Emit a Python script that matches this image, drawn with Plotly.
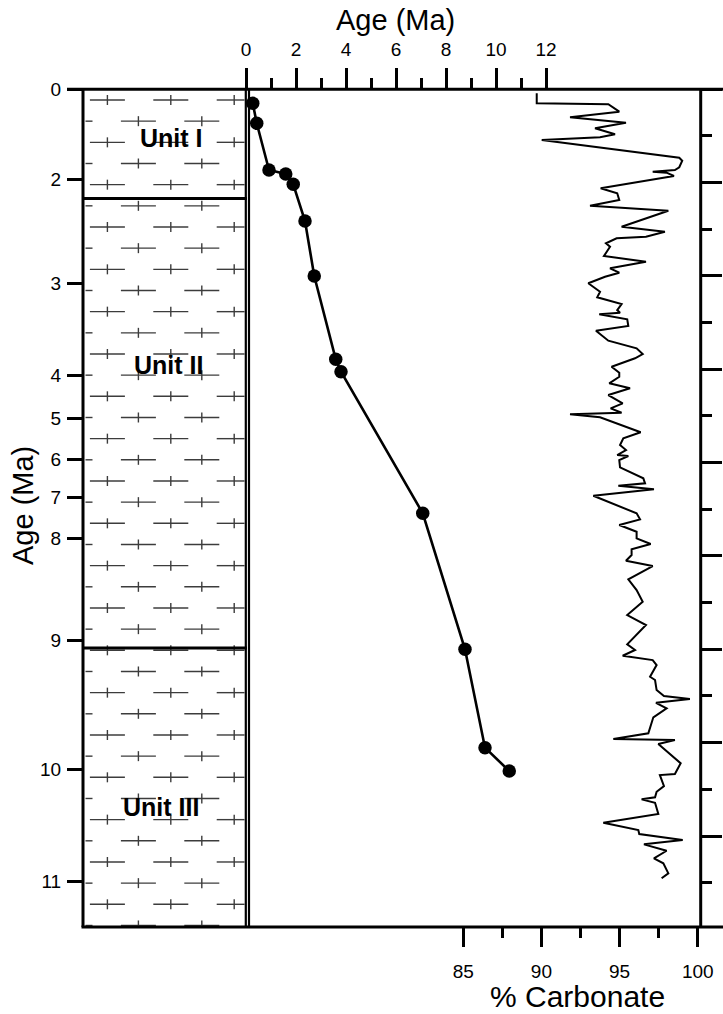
import plotly.graph_objects as go

# ---------------- figure geometry ----------------
W, H = 723, 1014
ML, MR, MT, MB = 83, 22, 89, 87
PW = W - ML - MR
PH = H - MT - MB


def px_x(p):
    return (p - ML) / PW


def px_y(p):
    return (H - MB - p) / PH


# ---------------- data ----------------
# age-depth tie points (age in Ma, depth in m)
age_ma = [0.27, 0.43, 0.92, 1.59, 1.89, 2.36, 2.73, 3.59, 3.80, 7.07, 8.76, 9.56, 10.53]
age_depth = [3.0, 7.29, 17.29, 18.15, 20.36, 28.22, 40.0, 57.85, 60.51, 90.85, 120.0, 141.08, 146.07]

# carbonate record
carb_pct = [89.70, 89.70, 94.28, 94.98, 91.83, 95.41, 93.43, 94.71, 93.75, 90.02,
            98.82, 99.01, 98.82, 98.54, 97.12, 98.01, 98.48, 93.79, 94.85, 94.98,
            93.11, 98.12, 95.13, 97.90, 96.69, 94.81, 94.13, 94.39, 94.00, 96.69,
            94.39, 94.98, 94.07, 93.00, 93.75, 93.57, 95.13, 94.85, 95.03, 93.70,
            95.49, 95.56, 93.49, 94.28, 96.09, 96.48, 95.99, 94.49, 94.98, 94.98,
            94.34, 95.67, 94.28, 95.20, 94.43, 95.13, 91.83, 93.75, 96.35, 95.24,
            95.03, 95.41, 94.85, 95.56, 94.98, 95.03, 96.52, 96.63, 94.92, 97.20,
            93.32, 96.09, 96.31, 94.98, 96.09, 96.09, 96.99, 95.77, 95.77, 95.41,
            97.12, 95.56, 96.09, 96.48, 95.49, 96.69, 95.49, 95.99, 95.20, 97.12,
            97.37, 96.95, 97.27, 97.37, 97.84, 99.50, 97.33, 98.01, 97.16, 96.84,
            94.60, 98.54, 97.48, 98.91, 98.54, 97.58, 97.84, 97.37, 97.27, 96.41,
            97.27, 97.48, 93.96, 96.20, 96.26, 99.04, 96.56, 98.01, 97.20, 97.80,
            98.12, 97.69]
carb_depth = [0.86, 3.00, 3.21, 4.80, 6.00, 7.16, 8.36, 9.64, 10.29, 10.86,
              14.66, 15.30, 16.71, 17.29, 17.66, 17.87, 18.58, 21.21, 22.29, 23.72,
              24.94, 26.01, 29.44, 30.51, 31.59, 31.93, 33.00, 33.73, 35.72, 36.94,
              38.36, 39.30, 40.16, 41.57, 43.37, 44.57, 46.01, 47.30, 47.87, 48.22,
              49.29, 50.72, 51.73, 53.87, 55.50, 56.72, 57.64, 59.44, 60.73, 61.59,
              63.00, 64.07, 65.51, 67.29, 68.36, 69.30, 69.65, 70.29, 73.50, 74.79,
              76.23, 77.30, 78.37, 78.58, 79.44, 81.00, 83.36, 84.43, 84.95, 85.72,
              87.09, 90.86, 92.15, 93.37, 94.80, 96.22, 97.44, 98.58, 99.80, 101.02,
              102.15, 105.00, 107.30, 109.80, 112.65, 114.80, 118.93, 120.15, 121.38, 122.30,
              123.37, 125.88, 126.58, 128.73, 130.01, 130.65, 131.45, 132.65, 134.57, 138.00,
              139.23, 139.44, 140.30, 144.43, 146.72, 146.94, 149.30, 150.52, 151.72, 152.15,
              152.87, 155.30, 157.16, 158.73, 159.58, 160.87, 161.79, 163.16, 164.79, 165.86,
              168.00, 169.07]

# left axis: age labels placed at depth positions
age_tick_depth = [0, 19.22, 41.57, 61.22, 70.50, 79.22, 87.51, 96.22, 118.01, 145.65, 169.80]
age_tick_text = ["0", "2", "3", "4", "5", "6", "7", "8", "9", "10", "11"]

# lithologic units
unit_names = ["Unit I", "Unit II", "Unit III"]
unit_bounds = [23.4, 119.7]
unit_label_depth = [10.43, 59.07, 153.8]

# axis tick values
top_age_ticks = [0, 2, 4, 6, 8, 10, 12]
top_age_minor = [1, 3, 5, 7, 9, 11]
carb_ticks = [85, 90, 95, 100]
carb_minor = [87.5, 92.5, 97.5]
depth_major = [0, 20, 40, 60, 80, 100, 120, 140, 160]
depth_minor = [10, 30, 50, 70, 90, 110, 130, 150, 170]

DEPTH_RANGE = [179.5, -0.064]
FONT = "Liberation Sans, Arial, sans-serif"

fig = go.Figure()

# ---------------- lithology pattern (decoration in pixel space) ----------------
pat_x, pat_y = [], []
COL_L, COL_R = 85.5, 244.5
for k in range(40):
    yy = 100 + 21.166 * k
    if k % 2 == 0:
        centers = [107.4, 170.8, 234.2]
    else:
        centers = [75.0, 138.4, 201.8]
    for c in centers:
        x0, x1 = max(c - 17.5, COL_L), min(c + 17.5, COL_R)
        if x1 > x0:
            pat_x += [x0, x1, None]
            pat_y += [yy, yy, None]
        if COL_L < c < COL_R:
            pat_x += [c, c, None]
            pat_y += [yy - 5, min(yy + 5, 925.5), None]

fig.add_trace(go.Scatter(x=pat_x, y=pat_y, mode="lines", xaxis="x3", yaxis="y3",
                         line=dict(color="#3c3c3c", width=1.4), hoverinfo="skip",
                         showlegend=False))

# ---------------- carbonate curve ----------------
fig.add_trace(go.Scatter(x=carb_pct, y=carb_depth, mode="lines", xaxis="x", yaxis="y",
                         line=dict(color="black", width=2), showlegend=False))

# ---------------- age-depth ----------------
fig.add_trace(go.Scatter(x=age_ma, y=age_depth, mode="lines+markers", xaxis="x2", yaxis="y",
                         line=dict(color="black", width=2.6),
                         marker=dict(color="black", size=13.5), showlegend=False,
                         cliponaxis=False))

# invisible trace for right axis
fig.add_trace(go.Scatter(x=[None], y=[None], xaxis="x", yaxis="y2", showlegend=False))

tickfont = dict(family=FONT, size=19, color="black")

fig.update_layout(
    template="none",
    width=W, height=H, autosize=False,
    margin=dict(l=ML, r=MR, t=MT, b=MB, pad=0, autoexpand=False),
    paper_bgcolor="white", plot_bgcolor="white",
    showlegend=False,
    xaxis=dict(domain=[0, 1], range=[60.67, 100.21], side="bottom", anchor="y",
               tickmode="array", tickvals=carb_ticks, ticks="outside", ticklen=19,
               tickwidth=3, tickcolor="black", tickfont=tickfont,
               minor=dict(tickvals=carb_minor, ticks="outside", ticklen=10,
                          tickwidth=3, tickcolor="black"),
               showline=False, showgrid=False, zeroline=False, ticklabelstandoff=8,
               automargin=False),
    xaxis2=dict(overlaying="x", side="top", anchor="y", range=[-6.52, 18.2],
                tickmode="array", tickvals=top_age_ticks, ticks="outside", ticklen=20,
                tickwidth=3, tickcolor="black", tickfont=tickfont,
                minor=dict(tickvals=top_age_minor, ticks="outside", ticklen=10,
                           tickwidth=3, tickcolor="black"),
                showline=False, showgrid=False, zeroline=False, ticklabelstandoff=4,
                automargin=False),
    xaxis3=dict(overlaying="x", range=[ML, W - MR], visible=False, anchor="y3",
                automargin=False),
    yaxis=dict(range=DEPTH_RANGE, side="left", anchor="x",
               tickmode="array", tickvals=age_tick_depth, ticktext=age_tick_text,
               ticks="outside", ticklen=15, tickwidth=3, tickcolor="black",
               tickfont=tickfont, showline=False, showgrid=False, zeroline=False,
               ticklabelstandoff=2, automargin=False),
    yaxis2=dict(overlaying="y", side="right", anchor="x", range=DEPTH_RANGE,
                tickmode="array", tickvals=depth_major, ticks="outside", ticklen=20,
                tickwidth=3, tickcolor="black", showticklabels=False,
                minor=dict(tickvals=depth_minor, ticks="outside", ticklen=10,
                           tickwidth=3, tickcolor="black"),
                showline=False, showgrid=False, zeroline=False, automargin=False),
    yaxis3=dict(overlaying="y", range=[H - MB, MT], visible=False, anchor="x3",
                automargin=False),
)

# ---------------- frame lines ----------------
LW = 3
shapes = []


def hline(p_y, p_x0, p_x1, w=LW):
    shapes.append(dict(type="line", xref="paper", yref="paper",
                       x0=px_x(p_x0), x1=px_x(p_x1), y0=px_y(p_y), y1=px_y(p_y),
                       line=dict(color="black", width=w)))


def vline(p_x, p_y0, p_y1, w=LW):
    shapes.append(dict(type="line", xref="paper", yref="paper",
                       x0=px_x(p_x), x1=px_x(p_x), y0=px_y(p_y0), y1=px_y(p_y1),
                       line=dict(color="black", width=w)))


hline(89.3, 67, 723)
hline(927, 81.5, 723)
vline(83, 89.3, 927)
vline(245.8, 89.3, 927, 2.2)
vline(249.0, 89.3, 927, 2.2)
vline(700.7, 89.3, 927)
for b in unit_bounds:
    shapes.append(dict(type="line", xref="paper", yref="y",
                       x0=px_x(83), x1=px_x(247), y0=b, y1=b,
                       line=dict(color="black", width=LW)))
fig.update_layout(shapes=shapes)

# ---------------- annotations ----------------
ann = []
unit_x_px = [171.5, 168.5, 161.0]
for name, d, xp in zip(unit_names, unit_label_depth, unit_x_px):
    ann.append(dict(text="<b>" + name + "</b>", xref="paper", yref="y", x=px_x(xp), y=d,
                    showarrow=False, font=dict(family=FONT, size=25, color="black"),
                    xanchor="center", yanchor="middle"))
ann.append(dict(text="Age (Ma)", xref="paper", yref="paper", x=px_x(395), y=px_y(20),
                showarrow=False, font=dict(family=FONT, size=29, color="black"),
                xanchor="center", yanchor="middle"))
ann.append(dict(text="Age (Ma)", xref="paper", yref="paper", x=px_x(23), y=px_y(506),
                showarrow=False, textangle=-90, font=dict(family=FONT, size=29, color="black"),
                xanchor="center", yanchor="middle"))
ann.append(dict(text="% Carbonate", xref="paper", yref="paper", x=px_x(577), y=px_y(996),
                showarrow=False, font=dict(family=FONT, size=30, color="black"),
                xanchor="center", yanchor="middle"))
fig.update_layout(annotations=ann)

fig.write_html("out.html",
               config={"displayModeBar": False, "responsive": False},
               post_script="document.body.style.margin='0px';"
                           "document.body.style.padding='0px';"
                           "document.body.style.overflow='hidden';")
